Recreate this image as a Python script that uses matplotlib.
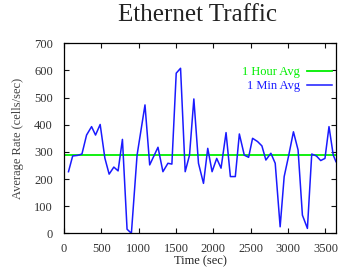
import matplotlib
matplotlib.use("Agg")
import matplotlib.pyplot as plt

times = [60, 116, 180, 240, 302, 369, 422, 484, 547, 604, 667, 724, 782, 844, 902,
         978, 1084, 1147, 1258, 1324, 1391, 1444, 1502, 1560, 1622, 1680, 1738,
         1800, 1867, 1924, 1982, 2044, 2102, 2169, 2227, 2293, 2347, 2413, 2471,
         2524, 2591, 2649, 2702, 2769, 2827, 2893, 2947, 3004, 3071, 3133, 3191,
         3258, 3316, 3378, 3436, 3493, 3547, 3604, 3640]
min_avg = [227, 285, 287, 292, 362, 393, 362, 401, 277, 218, 244, 230, 346, 15, 0,
           288, 473, 252, 317, 227, 258, 255, 590, 608, 227, 288, 495,
           258, 184, 313, 227, 276, 240, 371, 209, 209, 366, 288, 280,
           350, 338, 322, 270, 295, 258, 24, 209, 282, 374, 307, 67,
           18, 292, 285, 268, 276, 393, 288, 264]
hour_avg = 287

xticks = [0, 500, 1000, 1500, 2000, 2500, 3000, 3500]
yticks = [0, 100, 200, 300, 400, 500, 600, 700]

plt.rcParams['font.family'] = ['Liberation Serif', 'DejaVu Serif']

fig = plt.figure(figsize=(3.39, 2.67), dpi=100)
ax = fig.add_axes([0.1888, 0.1262, 0.8022, 0.7116])

ax.axhline(hour_avg, color='#00ee00', lw=1.3, label='1 Hour Avg')
ax.plot(times, min_avg, color='#1a1aff', lw=1.1, label='1 Min Avg')

ax.set_xlim(0, 3640)
ax.set_ylim(0, 700)
ax.set_xticks(xticks)
ax.set_yticks(yticks)
ax.tick_params(direction='in', top=True, right=True, labelsize=9, length=3.5,
               width=0.8, colors='#111111', labelcolor='#333333')
ax.tick_params(axis='y', pad=8)
ax.tick_params(axis='x', pad=7)
for s in ax.spines.values():
    s.set_linewidth(0.9)

ax.set_xlabel('Time (sec)', fontsize=9, labelpad=0, color='#222222')
ax.set_ylabel('Average Rate (cells/sec)', fontsize=9, labelpad=7, color='#444444')
fig.text(0.582, 0.985, 'Ethernet Traffic', ha='center', va='top', fontsize=18,
         color='#222222')

leg = ax.legend(loc='upper right', bbox_to_anchor=(1.005, 0.905), frameon=False,
                markerfirst=False, fontsize=9, handlelength=2.0,
                labelcolor='linecolor', borderaxespad=0, handletextpad=0.6,
                labelspacing=0.15)

fig.savefig('out.png', dpi=100)
